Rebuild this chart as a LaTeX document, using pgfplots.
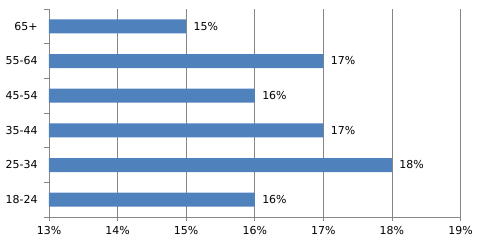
\documentclass[border=0pt]{standalone}
\usepackage{pgfplots}
\pgfplotsset{compat=1.18}
\usepackage{fontspec}
\setmainfont{DejaVu Sans}
\definecolor{barblue}{HTML}{4F81BD}
\definecolor{gridgray}{HTML}{868686}
\begin{document}
\begin{tikzpicture}
\useasboundingbox (-49bp,-30bp) rectangle (429bp,217bp);
\begin{axis}[
  at={(0,0)}, anchor=south west,
  scale only axis,
  width=411.5bp, height=208bp,
  xbar, bar width=14bp,
  xmin=13, xmax=19,
  ymin=-0.5, ymax=5.5,
  axis lines*=left,
  axis line style={gridgray},
  xtick={13,...,19},
  xticklabel={\pgfmathprintnumber{\tick}\%},
  ytick={0,...,5},
  yticklabels={18-24,25-34,35-44,45-54,55-64,65+},
  minor ytick={-0.5,0.5,...,5.5},
  xmajorgrids,
  major grid style={gridgray, line width=0.8pt},
  tick style={gridgray, line width=0.8pt},
  tick align=outside,
  major x tick style={gridgray},
  major y tick style={draw=none},
  minor tick length=5bp,
  major tick length=4bp,
  every tick label/.style={font=\fontsize{11}{13}\selectfont, text=black},
  yticklabel style={xshift=-4bp},
  xticklabel style={yshift=-2bp},
  /pgf/number format/assume math mode=true,
  nodes near coords={\pgfmathprintnumber{\pgfplotspointmeta}\%},
  nodes near coords style={font=\fontsize{11}{13}\selectfont, text=black, anchor=west, xshift=4bp},
]
\addplot[fill=barblue, draw=none] coordinates {(16,0) (18,1) (17,2) (16,3) (17,4) (15,5)};
\end{axis}
\end{tikzpicture}
\end{document}
